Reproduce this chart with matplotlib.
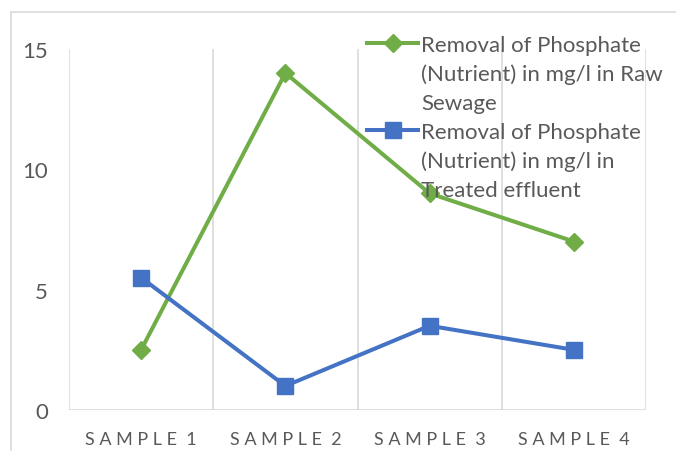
import numpy as np
import matplotlib.pyplot as plt
from matplotlib.patches import Rectangle
from matplotlib.lines import Line2D

samples = ["SAMPLE 1", "SAMPLE 2", "SAMPLE 3", "SAMPLE 4"]
raw_sewage = [2.5, 14, 9, 7]
treated_effluent = [5.5, 1, 3.5, 2.5]
yticks = [0, 5, 10, 15]

raw_label = ["Removal of Phosphate", "(Nutrient) in mg/l in Raw", "Sewage"]
treated_label = ["Removal of Phosphate", "(Nutrient) in mg/l in", "Treated effluent"]

plt.rcParams['font.family'] = ['Lato', 'DejaVu Sans']
text_col = '#595959'
grid_col = '#D9D9D9'

fig = plt.figure(figsize=(6.76, 4.52), dpi=100)
ax = fig.add_axes([69/676, 41/452, (646-69)/676, 361/452])

# outer chart border (cut by the image edge on right and bottom)
fig.patches.append(Rectangle((11/676, -0.1), 1.2, 1 - 13/452 + 0.1,
                             transform=fig.transFigure, fill=False,
                             edgecolor=grid_col, lw=1.2))

x = np.arange(len(samples))
l1, = ax.plot(x, raw_sewage, color='#70AD47', lw=2.9, marker='D', ms=9.5, zorder=3)
l2, = ax.plot(x, treated_effluent, color='#4472C4', lw=2.9, marker='s', ms=11, zorder=3)

ax.set_xlim(-0.5, len(samples) - 0.5)
ax.set_ylim(0, 15)
ax.set_yticks(yticks)
ax.set_xticks(x)
ax.set_xticklabels([" ".join(s).replace("E   ", "E  ") for s in samples])

for xv in np.arange(-0.5, len(samples), 1.0):
    ax.axvline(xv, color=grid_col, lw=1.2, zorder=0)

for s in ax.spines.values():
    s.set_visible(False)
ax.axhline(0, color=grid_col, lw=1.2, zorder=1)

ax.tick_params(axis='both', length=0, colors=text_col)
ax.tick_params(axis='y', labelsize=16, pad=15)
ax.tick_params(axis='x', labelsize=13, pad=15)

# legend: handle next to the first line of each wrapped label
blank = Line2D([], [], linestyle='none')
handles = [l1, blank, blank, l2, blank, blank]
labels = raw_label + treated_label
leg = fig.legend(handles, labels, loc='upper left', bbox_to_anchor=(356/676, 1 - 25/452),
                 frameon=False, fontsize=16, handlelength=2.3,
                 handletextpad=0.12, labelspacing=0.39, borderpad=0)
for t in leg.get_texts():
    t.set_color(text_col)

fig.savefig('out.png', dpi=100)
